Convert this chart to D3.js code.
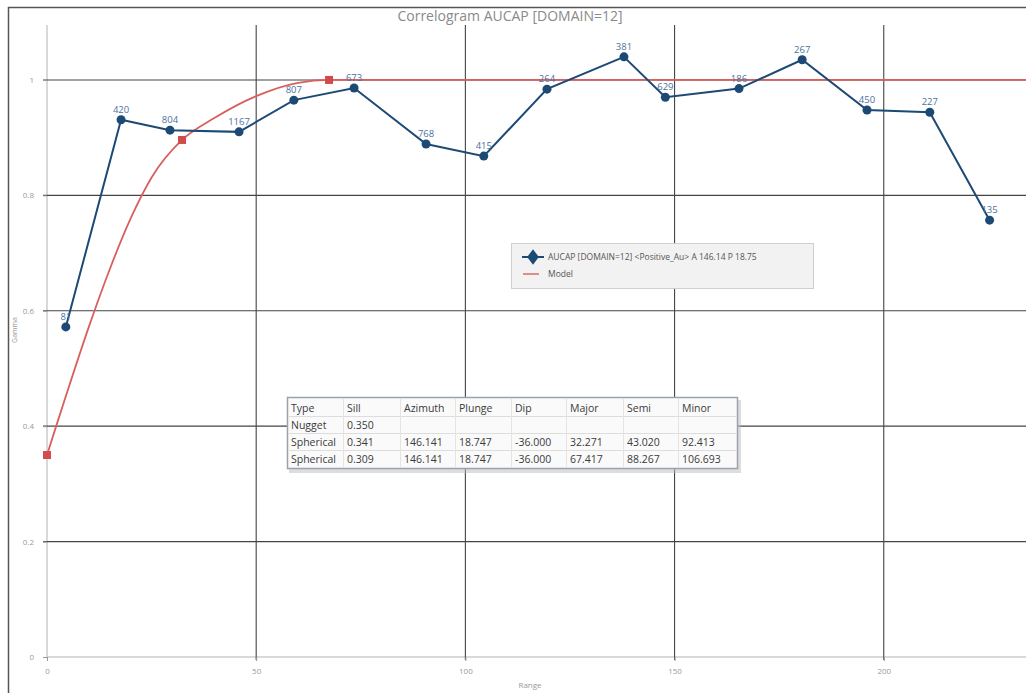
<!DOCTYPE html>
<html><head><meta charset="utf-8">
<script src="https://cdn.jsdelivr.net/npm/d3@7"></script>
<style>
html,body{margin:0;padding:0;background:#fff;}
svg{display:block;font-family:"Open Sans","Noto Sans",sans-serif;}
</style></head>
<body>
<svg id="chart" width="1026" height="693"></svg>
<script>
// ---- data ----
const lagRange = [4.5, 17.7, 29.4, 45.9, 59.0, 73.4, 90.6, 104.4, 119.5, 137.9, 147.8, 165.4, 180.5, 196.0, 211.0, 225.3];
const lagGamma = [0.572, 0.931, 0.913, 0.910, 0.965, 0.986, 0.889, 0.868, 0.984, 1.040, 0.970, 0.985, 1.035, 0.948, 0.944, 0.757];
const lagPairs = ["81", "420", "804", "1167", "807", "673", "768", "415", "264", "381", "629", "186", "267", "450", "227", "135"];
const modelRange = [0, 2.5, 5, 10, 15, 20, 25, 32.271, 40, 50, 60, 67.417, 234];
const modelGamma = [0.350, 0.407, 0.463, 0.572, 0.672, 0.760, 0.831, 0.896, 0.934, 0.972, 0.995, 1.000, 1.000];
const modelKnots = [0, 32.271, 67.417];
const knotGamma = [0.350, 0.896, 1.000];
const xTicks = [0, 50, 100, 150, 200];
const yTicks = [0, 0.2, 0.4, 0.6, 0.8, 1];
const tableHeader = ["Type", "Sill", "Azimuth", "Plunge", "Dip", "Major", "Semi", "Minor"];
const tableRows = [
  ["Nugget", "0.350", "", "", "", "", "", ""],
  ["Spherical", "0.341", "146.141", "18.747", "-36.000", "32.271", "43.020", "92.413"],
  ["Spherical", "0.309", "146.141", "18.747", "-36.000", "67.417", "88.267", "106.693"]
];
const titleText = "Correlogram AUCAP [DOMAIN=12]";
const legendLabels = ["AUCAP [DOMAIN=12] <Positive_Au> A 146.14 P 18.75", "Model"];

// ---- layout ----
const svg = d3.select("#chart");
const x = d3.scaleLinear().domain([0, 234]).range([47, 1026]);
const y = d3.scaleLinear().domain([0, 1.09]).range([657, 28]);
const blue = "#1d4a75", red = "#d24a4a";

// outer frame (top and left edges visible)
svg.append("rect").attr("x", 8.5).attr("y", 7.5).attr("width", 1030).attr("height", 700)
  .attr("fill", "none").attr("stroke", "#555").attr("stroke-width", 1.5);

// title
svg.append("text").attr("x", 510).attr("y", 21).attr("text-anchor", "middle")
  .attr("font-size", 14).attr("fill", "#8a8a8a").text(titleText);

// zero lines
svg.append("line").attr("x1", x(0)).attr("x2", x(0)).attr("y1", 25).attr("y2", y(0))
  .attr("stroke", "#ccc").attr("stroke-width", 1.5);
svg.append("line").attr("x1", x(0)).attr("x2", 1026).attr("y1", y(0)).attr("y2", y(0))
  .attr("stroke", "#ccc").attr("stroke-width", 1.5);

// grid
const g = svg.append("g");
g.selectAll(".vg").data(xTicks.filter(d => d > 0)).join("line")
  .attr("x1", d => x(d)).attr("x2", d => x(d)).attr("y1", 25).attr("y2", y(0) + 3)
  .attr("stroke", "#444").attr("stroke-width", 1.1);
g.selectAll(".hg").data(yTicks.filter(d => d > 0)).join("line")
  .attr("x1", x(0) - 4).attr("x2", 1026).attr("y1", d => y(d)).attr("y2", d => y(d))
  .attr("stroke", "#444").attr("stroke-width", 1.1);

// axes
const xAxis = svg.append("g").attr("transform", `translate(0,${y(0)})`)
  .call(d3.axisBottom(x).tickValues(xTicks).tickSize(4).tickFormat(d3.format("d")));
const yAxis = svg.append("g").attr("transform", `translate(${x(0)},0)`)
  .call(d3.axisLeft(y).tickValues(yTicks).tickSize(4).tickFormat(d => d === 0 ? "0" : d3.format("")(d)));
[xAxis, yAxis].forEach(a => {
  a.select(".domain").remove();
  a.selectAll(".tick line").attr("stroke", "#999");
  a.selectAll(".tick text").attr("fill", "#999").attr("font-size", 8).attr("font-family", "'Open Sans',sans-serif");
});
xAxis.selectAll(".tick text").attr("dy", "1.2em");
yAxis.selectAll(".tick text").attr("dx", "-6");

// axis titles
svg.append("text").attr("x", 530).attr("y", 688).attr("text-anchor", "middle")
  .attr("font-size", 8).attr("fill", "#999").text("Range");
svg.append("text").attr("transform", "translate(17,330) rotate(-90)").attr("text-anchor", "middle")
  .attr("font-size", 7).attr("fill", "#999").text("Gamma");

// model curve
const modelPts = modelRange.map((d, i) => [d, modelGamma[i]]);
svg.append("path").datum(modelPts)
  .attr("d", d3.line().x(d => x(d[0])).y(d => y(d[1])).curve(d3.curveMonotoneX))
  .attr("fill", "none").attr("stroke", "#d95f5f").attr("stroke-width", 1.8);
svg.selectAll(".knot").data(modelKnots).join("rect")
  .attr("x", d => x(d) - 4).attr("y", (d, i) => y(knotGamma[i]) - 4)
  .attr("width", 8).attr("height", 8).attr("fill", red);

// experimental series
const pts = lagRange.map((d, i) => [d, lagGamma[i], lagPairs[i]]);
svg.append("path").datum(pts)
  .attr("d", d3.line().x(d => x(d[0])).y(d => y(d[1])))
  .attr("fill", "none").attr("stroke", blue).attr("stroke-width", 2);
svg.selectAll(".pt").data(pts).join("circle")
  .attr("cx", d => x(d[0])).attr("cy", d => y(d[1])).attr("r", 4.5).attr("fill", blue);
svg.selectAll(".lbl").data(pts).join("text")
  .attr("x", d => x(d[0])).attr("y", d => y(d[1]) - 7).attr("text-anchor", "middle")
  .attr("font-size", 9.5).attr("fill", "#4a72a0").text(d => d[2]);

// legend
const lg = svg.append("g");
lg.append("rect").attr("x", 511.5).attr("y", 243.5).attr("width", 302).attr("height", 45)
  .attr("fill", "#f2f2f2").attr("stroke", "#cfcfcf");
lg.append("line").attr("x1", 522).attr("x2", 544).attr("y1", 257).attr("y2", 257)
  .attr("stroke", blue).attr("stroke-width", 2);
lg.append("path").attr("d", d3.symbol(d3.symbolDiamond, 70)()).attr("transform", "translate(533,257) scale(1.3,1)")
  .attr("fill", blue);
lg.append("text").attr("x", 548).attr("y", 260).attr("font-size", 8.5).attr("fill", "#555").text(legendLabels[0]);
lg.append("line").attr("x1", 523).attr("x2", 539).attr("y1", 274).attr("y2", 274)
  .attr("stroke", "#d96a6a").attr("stroke-width", 1.5);
lg.append("text").attr("x", 548).attr("y", 277).attr("font-size", 8.5).attr("fill", "#555").text(legendLabels[1]);

// table
const colX = [291, 347, 404, 459, 515, 570, 627, 682];
const rowY = [399, 416, 433, 450];
const tg = svg.append("g");
tg.append("rect").attr("x", 289).attr("y", 400).attr("width", 452).attr("height", 73)
  .attr("fill", "#bbb").attr("opacity", 0.5);
tg.append("rect").attr("x", 287.5).attr("y", 397.5).attr("width", 450).attr("height", 71)
  .attr("fill", "#fafafa").attr("stroke", "#9aa3ad").attr("stroke-width", 1.5);
rowY.slice(1).forEach(ry => tg.append("line").attr("x1", 289).attr("x2", 736)
  .attr("y1", ry + 0.5).attr("y2", ry + 0.5).attr("stroke", "#ddd"));
colX.slice(1).forEach(cx => tg.append("line").attr("x1", cx - 3.5).attr("x2", cx - 3.5)
  .attr("y1", 399).attr("y2", 467).attr("stroke", "#e4e4e4"));
const allRows = [tableHeader].concat(tableRows);
allRows.forEach((row, ri) => row.forEach((cell, ci) => {
  tg.append("text").attr("x", colX[ci]).attr("y", rowY[ri] + 13).attr("font-size", 10.5)
    .attr("fill", "#3a3a3a").text(cell);
}));
</script>
</body></html>
